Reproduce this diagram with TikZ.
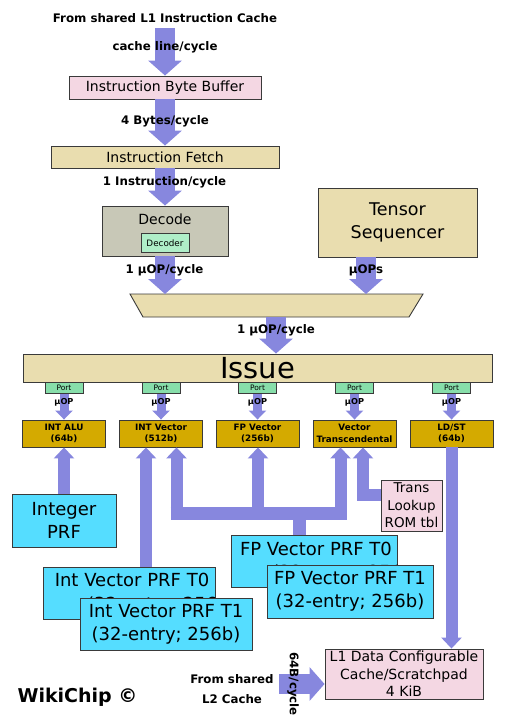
\documentclass[tikz,border=0pt]{standalone}
\usepackage{fontspec}
\setmainfont{DejaVu Sans}
\usetikzlibrary{arrows.meta}
\definecolor{arrowc}{HTML}{8787DE}
\definecolor{tanc}{HTML}{E9DDAF}
\definecolor{pinkc}{HTML}{F4D7E3}
\definecolor{decgray}{HTML}{C8C8B7}
\definecolor{decoderc}{HTML}{AFEEC8}
\definecolor{portc}{HTML}{87DEAA}
\definecolor{unitc}{HTML}{D4AA00}
\definecolor{prfc}{HTML}{55DDFF}
\definecolor{bordc}{HTML}{3A3A3A}
\begin{document}
\begin{tikzpicture}[x=1pt,y=-1pt,
  box/.style={draw=bordc, line width=0.9pt, inner sep=0pt, align=center},
  fat/.style={draw=arrowc, line width=20pt, -{Triangle[length=15pt,width=33pt]}},
  portarr/.style={draw=arrowc, line width=9pt, -{Triangle[length=9pt,width=17pt]}},
  medarr/.style={draw=arrowc, line width=12pt, line join=miter, -{Triangle[length=11pt,width=20pt]}},
  busline/.style={draw=arrowc, line width=13pt},
  blbl/.style={font=\bfseries\fontsize{11.8}{14}\selectfont, inner sep=0pt},
  boxtxt/.style={font=\fontsize{14}{17}\selectfont},
  bigtxt/.style={font=\fontsize{17.5}{23}\selectfont},
  porttxt/.style={box, fill=portc, minimum width=38pt, minimum height=11pt, font=\fontsize{7.5}{8}\selectfont},
  uoptxt/.style={font=\bfseries\fontsize{8.2}{9}\selectfont, inner sep=0pt},
  unit/.style={box, fill=unitc, minimum width=83pt, minimum height=27pt, font=\bfseries\fontsize{8.8}{11.5}\selectfont},
  prf/.style={box, fill=prfc, font=\fontsize{18}{23}\selectfont},
  prftxt/.style={font=\fontsize{18}{23}\selectfont, inner sep=0pt}
]
\useasboundingbox (0,0) rectangle (513,722);

% ---------- front end ----------
\node[blbl] (l1txt) at (165,18) {From shared L1 Instruction Cache};
\node[box, fill=pinkc, minimum width=192pt, minimum height=23pt, boxtxt] (ibb) at (165,87.5) {Instruction Byte Buffer};
\node[box, fill=tanc, minimum width=228pt, minimum height=22pt, boxtxt] (fetch) at (165,157) {Instruction Fetch};
\node[box, fill=decgray, minimum width=126pt, minimum height=50pt] (decode) at (165,231) {};
\node[boxtxt, inner sep=0pt] (decodetxt) at (165,219) {Decode};
\node[box, fill=decoderc, minimum width=48pt, minimum height=19pt, font=\fontsize{8.8}{10}\selectfont] (decoder) at (165,243) {Decoder};
\node[box, fill=tanc, minimum width=159pt, minimum height=69pt, bigtxt] (tensor) at (397.5,222.5) {Tensor\\Sequencer};

\coordinate (a1s) at (165,28);
\draw[fat] (a1s) -- (ibb.north);
\node[blbl] (lbl1) at (165,47) {cache line/cycle};
\draw[fat] (ibb.south) -- (fetch.north);
\node[blbl] (lbl2) at (165,121) {4 Bytes/cycle};
\draw[fat] (fetch.south) -- (decode.north);
\node[blbl] (lbl3) at (164.5,182) {1 Instruction/cycle};

% trapezoid
\draw[draw=bordc, line width=0.9pt, fill=tanc] (130,294) -- (423,294) -- (409,317) -- (143,317) -- cycle;
\coordinate (trapin1) at (165,294);
\coordinate (trapin2) at (366,294);
\coordinate (trapout) at (276,317);

\draw[fat] (decode.south) -- (trapin1);
\node[blbl] (lbl4) at (164.5,270) {1 µOP/cycle};
\draw[fat] (tensor.south -| trapin2) -- (trapin2);
\node[blbl] (lbl5) at (366,270) {µOPs};

\node[box, fill=tanc, minimum width=469pt, minimum height=28pt, font=\fontsize{29}{30}\selectfont] (issue) at (257.5,368) {Issue};
\draw[fat] (trapout) -- (issue.north -| trapout);
\node[blbl] (lbl6) at (276,330) {1 µOP/cycle};

% ---------- ports and units ----------
\foreach \n/\x in {1/64,2/161,3/257.5,4/354.5,5/451.5}{
  \node[porttxt] (port\n) at (\x,388) {Port};
}
\node[unit] (alu) at (64,433.5) {INT ALU\\(64b)};
\node[unit] (intvec) at (161,433.5) {INT Vector\\(512b)};
\node[unit] (fpvec) at (257.5,433.5) {FP Vector\\(256b)};
\node[unit] (vt) at (354.5,433.5) {Vector\\Transcendental};
\node[unit] (ldst) at (451.5,433.5) {LD/ST\\(64b)};
\draw[portarr] (port1.south) -- (alu.north);
\draw[portarr] (port2.south) -- (intvec.north);
\draw[portarr] (port3.south) -- (fpvec.north);
\draw[portarr] (port4.south) -- (vt.north);
\draw[portarr] (port5.south) -- (ldst.north);
\foreach \n/\x in {1/64,2/161,3/257.5,4/354.5,5/451.5}{
  \node[uoptxt] (uop\n) at (\x,402) {µOP};
}

% ---------- register files ----------
\node[prf, minimum width=104pt, minimum height=53pt] (intprf) at (64,520.5) {Integer\\PRF};
\node[box, fill=pinkc, minimum width=61pt, minimum height=51pt, font=\fontsize{13.5}{17.5}\selectfont] (trans) at (411.5,505.5) {Trans\\Lookup\\ROM tbl};

\node[prf, minimum width=172pt, minimum height=52pt] (ivt0) at (129,593) {};
\node[prftxt, anchor=base] (ivt0a) at (132,586) {Int Vector PRF T0};
\begin{scope}
  \clip (ivt0.north west) rectangle (ivt0.south east);
  \node[prftxt, anchor=base west] (ivt0b) at (87,610) {(32-entry; 256b)};
\end{scope}
\node[prf, minimum width=172pt, minimum height=52pt] (ivt1) at (166,624) {Int Vector PRF T1\\(32-entry; 256b)};

\node[prf, minimum width=166pt, minimum height=52pt] (fpt0) at (314,561) {};
\node[prftxt, anchor=base] (fpt0a) at (316,555) {FP Vector PRF T0};
\begin{scope}
  \clip (fpt0.north west) rectangle (fpt0.south east);
  \node[prftxt, anchor=base west] (fpt0b) at (272,578) {(32-entry; 256b)};
\end{scope}
\node[prf, minimum width=166pt, minimum height=53pt] (fpt1) at (350,591.5) {FP Vector PRF T1\\(32-entry; 256b)};

\node[box, fill=pinkc, minimum width=158pt, minimum height=50pt, font=\fontsize{14}{17.5}\selectfont] (l1d) at (404,674) {L1 Data Configurable\\Cache/Scratchpad\\4 KiB};

% ---------- connectors below units ----------
\draw[medarr] (intprf.north) -- (alu.south);
\coordinate (ivl) at (146,500);
\draw[medarr] (ivt0.north -| ivl) -- (intvec.south -| ivl);

\coordinate (busL) at (176.5,513);
\coordinate (busM) at (258,513);
\coordinate (busR) at (340.5,513);
\coordinate (busD) at (299,513);
\coordinate (busLe) at (170.5,513);
\coordinate (busRe) at (346.5,513);
\draw[busline] (busLe) -- (busRe);
\draw[busline] (busD) -- (fpt0.north -| busD);
\draw[medarr] (busL) -- (intvec.south -| busL);
\draw[medarr] (busM) -- (fpvec.south -| busM);
\draw[medarr] (busR) -- (vt.south -| busR);

\coordinate (trj) at (363,495);
\draw[medarr] (trans.west |- trj) -- (trj) -- (vt.south -| trj);

\draw[medarr] (ldst.south) -- (l1d.north -| ldst.south);

% ---------- L2 input ----------
\coordinate (l2s) at (279,684);
\draw[fat] (l2s) -- (l1d.west |- l2s);
\node[blbl, align=center, font=\bfseries\fontsize{11.8}{20}\selectfont] (l2txt) at (232,689) {From shared\\L2 Cache};
\node[blbl, rotate=-90] (l2bw) at (293,684) {64B/cycle};

\node[font=\bfseries\fontsize{19}{22}\selectfont, inner sep=0pt] (wiki) at (77.5,697) {WikiChip ©};
\end{tikzpicture}
\end{document}
